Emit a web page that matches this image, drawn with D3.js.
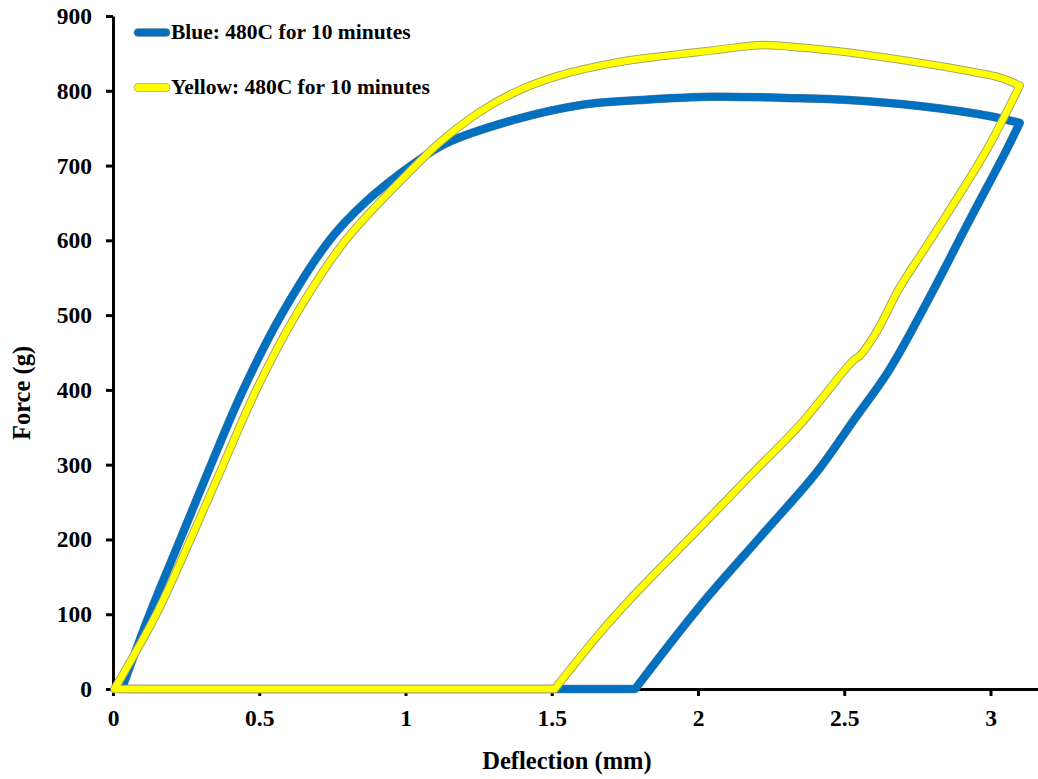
<!DOCTYPE html>
<html>
<head>
<meta charset="utf-8">
<script src="https://cdn.jsdelivr.net/npm/d3@7/dist/d3.min.js"></script>
<style>
  body { margin: 0; background: #fff; }
  svg { display: block; overflow: hidden; }
  text { font-family: "Liberation Serif", "Times New Roman", serif; font-weight: bold; fill: #000; }
  .axis path, .axis line { stroke: #000; stroke-width: 3; }
  .axis text { font-size: 23.5px; }
  .axis-title { font-size: 24.5px; }
  .legend text { font-size: 21.5px; }
</style>
</head>
<body>
<div id="chart"></div>
<script>
// Deflection (mm) vs Force (g)
// each loop: loading branch, unloading branch, then flat return along 0
const blueLoading = [
  [0.03, 0], [0.125, 100], [0.23, 200], [0.335, 300], [0.445, 400], [0.575, 500],
  [0.74, 600], [0.86, 650], [1.03, 703], [1.14, 730], [1.37, 761], [1.6, 781], [1.82, 788],
  [2.05, 792], [2.35, 790], [2.5, 788], [2.75, 780], [3.0, 766], [3.1, 757]
];
const blueUnloading = [
  [3.1, 757], [3.055, 721], [2.919, 620], [2.804, 533], [2.656, 428], [2.53, 358],
  [2.406, 290], [2.212, 203], [2.007, 111], [1.785, 0]
];
const blueReturn = [[1.785, 0], [0.03, 0]];

const yellowLoading = [
  [0.005, 0], [0.148, 100], [0.265, 200], [0.377, 300], [0.49, 400], [0.625, 500],
  [0.795, 600], [1.04, 702], [1.12, 732], [1.255, 772], [1.39, 801], [1.53, 821],
  [1.71, 837], [1.87, 846], [2.05, 854], [2.21, 861], [2.35, 858], [2.5, 852],
  [2.75, 838], [2.93, 826], [3.03, 818], [3.1, 807]
];
const yellowUnloading = [
  [3.1, 807], [2.987, 721], [2.804, 606], [2.69, 537], [2.611, 478], [2.554, 446],
  [2.53, 439], [2.35, 354], [2.19, 290], [2.007, 216], [1.78, 125], [1.665, 75], [1.51, 0]
];
const yellowReturn = [[1.51, 0], [0.005, 0]];

const xTicks = [0, 0.5, 1, 1.5, 2, 2.5, 3];
const yTicks = [0, 100, 200, 300, 400, 500, 600, 700, 800, 900];
const legendLabels = ["Blue: 480C for 10 minutes", "Yellow: 480C for 10 minutes"];

(function () {
  const width = 1038, height = 779;

  const svg = d3.select("#chart").append("svg")
    .attr("width", width)
    .attr("height", height);

  const x = d3.scaleLinear().domain([0, 3.2]).range([113, 113 + 3.2 * 292.5]);
  const y = d3.scaleLinear().domain([0, 900]).range([689, 16]);

  // --- axes ----------------------------------------------------------------
  svg.append("g")
    .attr("class", "axis")
    .attr("transform", `translate(0,${y(0)})`)
    .call(d3.axisBottom(x).tickValues(xTicks).tickSize(7).tickSizeOuter(0)
      .tickPadding(13).tickFormat(d3.format("~g")));

  svg.append("g")
    .attr("class", "axis")
    .attr("transform", `translate(${x(0)},0)`)
    .call(d3.axisLeft(y).tickValues(yTicks).tickSize(7).tickSizeOuter(0)
      .tickPadding(14));

  svg.selectAll(".axis text").attr("font-family", null).attr("font-size", null);

  svg.append("text")
    .attr("class", "axis-title")
    .attr("x", 567).attr("y", 769)
    .attr("text-anchor", "middle")
    .text("Deflection (mm)");

  svg.append("text")
    .attr("class", "axis-title")
    .attr("transform", "translate(30,393) rotate(-90)")
    .attr("text-anchor", "middle")
    .text("Force (g)");

  // --- curves --------------------------------------------------------------
  const smooth = d3.line().x(d => x(d[0])).y(d => y(d[1])).curve(d3.curveCatmullRom.alpha(0.5));
  const straight = d3.line().x(d => x(d[0])).y(d => y(d[1]));

  // glue branches into one path so the corners stay sharp
  const loopPath = (load, unload, back) =>
    smooth(load) + smooth(unload).replace(/^M/, "L") + straight(back).replace(/^M/, "L");

  const blueD = loopPath(blueLoading, blueUnloading, blueReturn);
  const yellowD = loopPath(yellowLoading, yellowUnloading, yellowReturn);

  const curves = svg.append("g").attr("fill", "none")
    .attr("stroke-linejoin", "round").attr("stroke-linecap", "round");

  curves.append("path").attr("d", blueD).attr("stroke", "#5f7f9a").attr("stroke-width", 8.5);
  curves.append("path").attr("d", blueD).attr("stroke", "#0070c0").attr("stroke-width", 7.5);
  curves.append("path").attr("d", yellowD).attr("stroke", "#a6a66a").attr("stroke-width", 8.5);
  curves.append("path").attr("d", yellowD).attr("stroke", "#ffff00").attr("stroke-width", 6.5);

  // --- legend --------------------------------------------------------------
  const legendColors = [["#5f7f9a", "#0070c0"], ["#a6a66a", "#ffff00"]];
  const legendY = [32.5, 87.5];
  const legend = svg.append("g").attr("class", "legend");
  legendLabels.forEach((label, i) => {
    legend.append("line")
      .attr("x1", 138).attr("x2", 166).attr("y1", legendY[i]).attr("y2", legendY[i])
      .attr("stroke", legendColors[i][0]).attr("stroke-width", 8.5).attr("stroke-linecap", "round");
    legend.append("line")
      .attr("x1", 138).attr("x2", 166).attr("y1", legendY[i]).attr("y2", legendY[i])
      .attr("stroke", legendColors[i][1]).attr("stroke-width", 7).attr("stroke-linecap", "round");
    legend.append("text")
      .attr("x", 171).attr("y", legendY[i] + 6)
      .text(label);
  });
})();
</script>
</body>
</html>
